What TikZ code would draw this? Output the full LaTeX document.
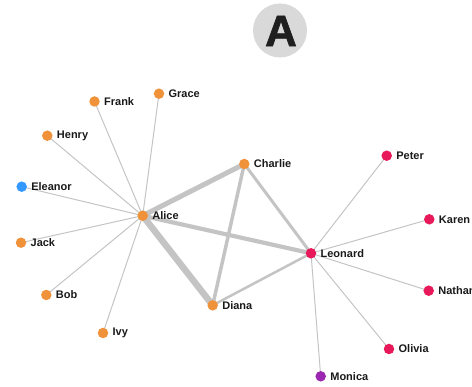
\documentclass[tikz,border=0pt]{standalone}
\usepackage{fontspec}
\setmainfont{Liberation Sans}
\newfontfamily\heavyfont[BoldFeatures={FakeBold=1.6}]{Liberation Sans}
\definecolor{cOr}{HTML}{F0923A}
\definecolor{cBl}{HTML}{3399FF}
\definecolor{cRd}{HTML}{E8195A}
\definecolor{cPu}{HTML}{9C27B0}
\definecolor{cEd}{HTML}{C4C4C4}
\definecolor{cBadge}{HTML}{D9D9D9}
\tikzset{
  dotnode/.style={circle,inner sep=0pt,minimum size=10.5pt,fill=#1},
  lbl/.style={font=\bfseries\fontsize{11}{12}\selectfont,text=black!90,inner sep=0pt,label distance=4pt},
  thin/.style={draw=cEd,line width=1pt},
  ed/.style={draw=cEd,line width=#1},
}
\newcommand{\person}[4]{\node[dotnode=#4,label={[lbl]right:#3}] (#1) at (#2) {};}
\begin{document}
\begin{tikzpicture}[x=1pt,y=1pt]
\clip (0,0) rectangle (472,387);
\useasboundingbox (0,0) rectangle (472,387);
% badge
\node[circle,fill=cBadge,minimum size=54pt,inner sep=0pt] (badge) at (280,356.5) {};
\node[font=\heavyfont\bfseries\fontsize{44}{44}\selectfont,text=black!88,inner sep=0pt] (badgeA) at (281,356) {A};
% coordinates of nodes
\coordinate (pFrank) at (94.5,285.5);
\coordinate (pGrace) at (159,293.3);
\coordinate (pHenry) at (47.3,251.3);
\coordinate (pEleanor) at (21.7,200.3);
\coordinate (pAlice) at (142.7,171.3);
\coordinate (pJack) at (21,144.3);
\coordinate (pBob) at (46.3,92);
\coordinate (pIvy) at (103,54);
\coordinate (pCharlie) at (244.3,223);
\coordinate (pDiana) at (212.7,81.7);
\coordinate (pLeonard) at (311,133.7);
\coordinate (pPeter) at (386.7,231.3);
\coordinate (pKaren) at (429.3,167.7);
\coordinate (pNathan) at (428.7,96.3);
\coordinate (pOlivia) at (389,38);
\coordinate (pMonica) at (320.7,10.7);
% edges (drawn first)
\draw[thin] (pAlice) -- (pFrank);
\draw[thin] (pAlice) -- (pGrace);
\draw[thin] (pAlice) -- (pHenry);
\draw[thin] (pAlice) -- (pEleanor);
\draw[thin] (pAlice) -- (pJack);
\draw[thin] (pAlice) -- (pBob);
\draw[thin] (pAlice) -- (pIvy);
\draw[thin] (pLeonard) -- (pPeter);
\draw[thin] (pLeonard) -- (pKaren);
\draw[thin] (pLeonard) -- (pNathan);
\draw[thin] (pLeonard) -- (pOlivia);
\draw[thin] (pLeonard) -- (pMonica);
\draw[ed=2.5pt] (pLeonard) -- (pDiana);
\draw[ed=3pt] (pLeonard) -- (pCharlie);
\draw[ed=3.5pt] (pCharlie) -- (pDiana);
\draw[ed=4.2pt] (pAlice) -- (pLeonard);
\draw[ed=5pt] (pAlice) -- (pCharlie);
\draw[ed=6.5pt] (pAlice) -- (pDiana);
% nodes
\person{frank}{pFrank}{Frank}{cOr}
\person{grace}{pGrace}{Grace}{cOr}
\person{henry}{pHenry}{Henry}{cOr}
\person{eleanor}{pEleanor}{Eleanor}{cBl}
\person{alice}{pAlice}{Alice}{cOr}
\person{jack}{pJack}{Jack}{cOr}
\person{bob}{pBob}{Bob}{cOr}
\person{ivy}{pIvy}{Ivy}{cOr}
\person{charlie}{pCharlie}{Charlie}{cOr}
\person{diana}{pDiana}{Diana}{cOr}
\person{leonard}{pLeonard}{Leonard}{cRd}
\person{peter}{pPeter}{Peter}{cRd}
\person{karen}{pKaren}{Karen}{cRd}
\person{nathan}{pNathan}{Nathan}{cRd}
\person{olivia}{pOlivia}{Olivia}{cRd}
\person{monica}{pMonica}{Monica}{cPu}
\end{tikzpicture}
\end{document}
